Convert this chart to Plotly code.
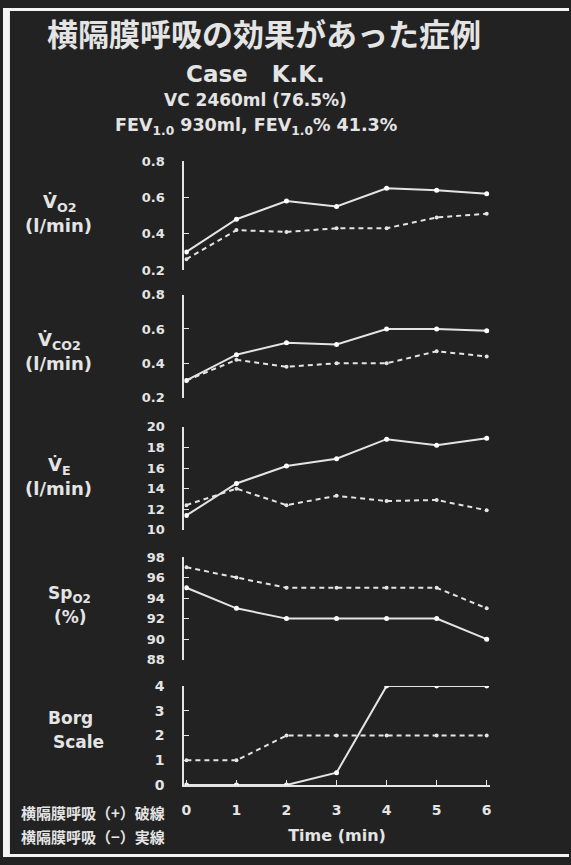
import plotly.graph_objects as go

# ---------------- data ----------------
time_min = [0, 1, 2, 3, 4, 5, 6]

vo2_minus = [0.30, 0.48, 0.58, 0.55, 0.65, 0.64, 0.62]   # 横隔膜呼吸(−) solid
vo2_plus = [0.26, 0.42, 0.41, 0.43, 0.43, 0.49, 0.51]    # 横隔膜呼吸(+) dashed

vco2_minus = [0.30, 0.45, 0.52, 0.51, 0.60, 0.60, 0.59]
vco2_plus = [0.30, 0.42, 0.38, 0.40, 0.40, 0.47, 0.44]

ve_minus = [11.4, 14.5, 16.2, 16.9, 18.8, 18.2, 18.9]
ve_plus = [12.4, 14.0, 12.4, 13.3, 12.8, 12.9, 11.9]

spo2_minus = [95, 93, 92, 92, 92, 92, 90]
spo2_plus = [97, 96, 95, 95, 95, 95, 93]

borg_minus = [0, 0, 0, 0.5, 4, 4, 4]
borg_plus = [1, 1, 2, 2, 2, 2, 2]

vo2_ticks = [0.2, 0.4, 0.6, 0.8]
vco2_ticks = [0.2, 0.4, 0.6, 0.8]
ve_ticks = [10, 12, 14, 16, 18, 20]
spo2_ticks = [88, 90, 92, 94, 96, 98]
borg_ticks = [0, 1, 2, 3, 4]

# ---------------- layout helpers ----------------
W, H = 571, 865
BG = "#222222"
FG = "#e4e4e4"
LATIN = "DejaVu Sans, Liberation Sans, Arial, sans-serif"
CJK = "Noto Sans CJK JP, Noto Sans CJK SC, sans-serif"


def px(x):
    return x / W


def py(y):
    return 1 - y / H


panels = [
    (vo2_minus, vo2_plus, vo2_ticks, (156, 267), 13),
    (vco2_minus, vco2_plus, vco2_ticks, (292, 397), 13),
    (ve_minus, ve_plus, ve_ticks, (426.7, 531.7), 13),
    (spo2_minus, spo2_plus, spo2_ticks, (559.3, 664), 13),
    (borg_minus, borg_plus, borg_ticks, (690.7, 791.7), 14),
]

fig = go.Figure()
layout = {}
x_dom = [px(183), px(491)]

for i, (solid, dashed, ticks, (ytop, ybot), tsize) in enumerate(panels, start=1):
    xa = "x" if i == 1 else f"x{i}"
    ya = "y" if i == 1 else f"y{i}"
    fig.add_trace(go.Scatter(
        x=time_min, y=dashed, xaxis=xa, yaxis=ya, mode="lines+markers",
        line=dict(color=FG, width=2, dash="5px,4px"),
        marker=dict(size=4, color=FG), showlegend=False,
        name="横隔膜呼吸(+)"))
    fig.add_trace(go.Scatter(
        x=time_min, y=solid, xaxis=xa, yaxis=ya, mode="lines+markers",
        line=dict(color=FG, width=2),
        marker=dict(size=5, color="#ffffff"), showlegend=False,
        name="横隔膜呼吸(−)"))

    last = i == len(panels)
    xkey = "xaxis" if i == 1 else f"xaxis{i}"
    ykey = "yaxis" if i == 1 else f"yaxis{i}"
    xa_cfg = dict(
        domain=x_dom, range=[-0.04, 6.06], anchor=ya,
        showgrid=False, zeroline=False,
        showline=last, linecolor=FG, linewidth=2,
        ticks="inside" if last else "", ticklen=5, tickcolor=FG,
        tickvals=time_min if last else [], showticklabels=last,
        tickfont=dict(family=LATIN, size=14, color=FG, weight="bold"),
        ticklabelstandoff=11,
    )
    if last:
        xa_cfg["title"] = dict(text="<b>Time (min)</b>", standoff=13,
                               font=dict(family=LATIN, size=16, color=FG))
    layout[xkey] = xa_cfg
    lo, hi = ticks[0], ticks[-1]
    layout[ykey] = dict(
        domain=[py(ybot), py(ytop)], range=[lo, hi], anchor=xa,
        showgrid=False, zeroline=False,
        showline=True, linecolor=FG, linewidth=2,
        ticks="inside", ticklen=5, tickcolor=FG, tickwidth=1,
        tickvals=ticks,
        tickfont=dict(family=LATIN, size=tsize, color=FG, weight="bold"),
        ticklabelstandoff=15,
    )

annotations = []


def label(text, x, y, size, family=LATIN, xanchor="center"):
    annotations.append(dict(
        text=text, x=px(x), y=py(y), xref="paper", yref="paper",
        xanchor=xanchor, yanchor="middle", showarrow=False,
        font=dict(family=family, size=size, color=FG)))


label("<b>横隔膜呼吸の効果があった症例</b>", 263, 25, 31, CJK)
label("<b>Case\u00a0\u00a0\u00a0K.K.</b>", 255, 67, 23)
label("<b>VC 2460ml (76.5%)</b>", 255, 94, 17)
label("<b>FEV<sub>1.0</sub> 930ml, FEV<sub>1.0</sub>% 41.3%</b>", 255, 121, 17.5)

label("<b>V\u0307<sub>O2</sub></b>", 57, 199, 18)
label("<b>(l/min)</b>", 56, 222, 18)
label("<b>V\u0307<sub>CO2</sub></b>", 57, 339, 18)
label("<b>(l/min)</b>", 56, 362, 18)
label("<b>V\u0307<sub>E</sub></b>", 57, 467, 18)
label("<b>(l/min)</b>", 56, 490, 18)
label("<b>Sp<sub>O2</sub></b>", 67, 598, 17)
label("<b>(%)</b>", 68, 620, 17)
label("<b>Borg</b>", 68, 723, 17)
label("<b>Scale</b>", 76, 748, 17)

label("<b>横隔膜呼吸（+）破線</b>", 16, 820, 15, CJK, xanchor="left")
label("<b>横隔膜呼吸（−）実線</b>", 16, 844, 15, CJK, xanchor="left")

shapes = [
    dict(type="rect", xref="paper", yref="paper", x0=0, x1=px(7), y0=0, y1=1,
         fillcolor="#f4f4f4", line=dict(width=0), layer="below"),
    dict(type="rect", xref="paper", yref="paper", x0=0, x1=1, y0=py(3), y1=1,
         fillcolor="#f4f4f4", line=dict(width=0), layer="below"),
    dict(type="rect", xref="paper", yref="paper", x0=0, x1=1, y0=0, y1=py(862),
         fillcolor="#f4f4f4", line=dict(width=0), layer="below"),
]

fig.update_layout(
    width=W, height=H,
    margin=dict(l=0, r=0, t=0, b=0, pad=0),
    paper_bgcolor=BG, plot_bgcolor=BG,
    annotations=annotations, shapes=shapes,
    showlegend=False,
    **layout,
)

fig.write_html(
    "out.html",
    config={"displayModeBar": False},
    post_script="document.body.style.margin='0px';document.body.style.overflow='hidden';",
)
